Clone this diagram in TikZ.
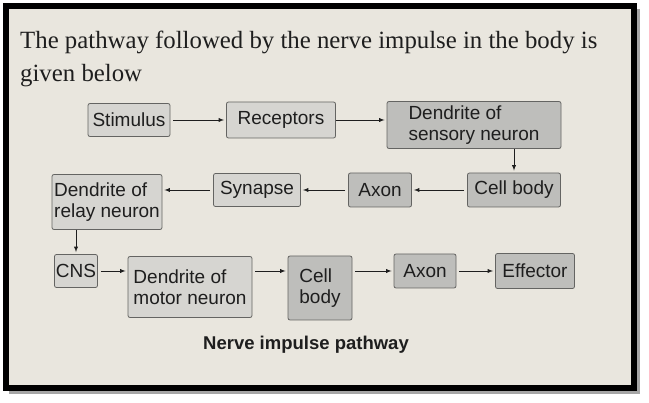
\documentclass[tikz,border=0pt]{standalone}
\usepackage{fontspec}
\setmainfont{Liberation Serif}
\setsansfont{Liberation Sans}
\usetikzlibrary{arrows}
\definecolor{page}{RGB}{233,230,222}
\definecolor{lightfill}{RGB}{214,213,209}
\definecolor{darkfill}{RGB}{190,190,187}
\definecolor{edge}{RGB}{100,100,98}
\definecolor{ink}{RGB}{30,30,30}
\tikzset{
  box/.style={draw=edge, line width=0.8pt, rounded corners=2pt, inner sep=0pt, align=left, text=ink,
    font=\sffamily\fontsize{19}{21.5}\selectfont},
  lightbox/.style={box, fill=lightfill},
  darkbox/.style={box, fill=darkfill},
  arr/.style={-latex, draw=ink, line width=0.9pt, shorten <=3pt, shorten >=2pt}
}

\begin{document}
\begin{tikzpicture}[x=1pt,y=-1pt]
        \useasboundingbox (0,0) rectangle (649,403);
        \fill[white] (0,0) rectangle (649,403);
        \fill[black!35] (9,9) rectangle (640,394);
        \fill[page] (6,6) rectangle (634,388);
        \draw[black, line width=6pt] (6,6) rectangle (634,388);

        \node[anchor=base west, inner sep=0pt, text=ink, font=\fontsize{24.8}{30}\selectfont] (title) at (20,49) {The pathway followed by the nerve impulse in the body is};
        \node[anchor=base west, inner sep=0pt, text=ink, font=\fontsize{24.8}{30}\selectfont] (titlenext) at (20,82) {given below};

        \node[lightbox, minimum width=82pt, minimum height=33pt] (stim) at (129,120) {Stimulus};
        \node[lightbox, minimum width=109pt, minimum height=36pt] (rec) at (281,120) {Receptors};
        \node[darkbox, minimum width=174pt, minimum height=47pt] (sens) at (474,125) {Dendrite of\\sensory neuron};
        \node[darkbox, minimum width=93pt, minimum height=34pt] (cbodyA) at (514,190) {Cell body};
        \node[darkbox, minimum width=63pt, minimum height=34pt] (axonA) at (380,190) {Axon};
        \node[lightbox, minimum width=87pt, minimum height=33pt] (syn) at (257,190) {Synapse};
        \node[lightbox, minimum width=110pt, minimum height=55pt] (relay) at (107,202) {Dendrite of\\relay neuron};
        \node[lightbox, minimum width=43pt, minimum height=33pt] (cns) at (76,271) {CNS};
        \node[lightbox, minimum width=124pt, minimum height=61pt] (motor) at (190,287) {Dendrite of\\motor neuron};
        \node[darkbox, minimum width=64pt, minimum height=64pt] (cbodyB) at (320,288) {Cell\\body};
        \node[darkbox, minimum width=62pt, minimum height=34pt] (axonB) at (425,271) {Axon};
        \node[darkbox, minimum width=79pt, minimum height=35pt] (eff) at (535,271) {Effector};

        \draw[arr] (stim) -- (rec);
        \draw[arr, shorten <=0pt] (rec.east) -- (rec.east -| sens.west);
        \draw[arr, shorten <=0pt] (sens.south -| cbodyA) -- (cbodyA);
        \draw[arr] (cbodyA) -- (axonA);
        \draw[arr] (axonA) -- (syn);
        \draw[arr] (syn.west) -- (syn.west -| relay.east);
        \draw[arr, shorten <=0pt] (relay.south -| cns) -- (cns);
        \draw[arr] (cns) -- (cns -| motor.west);
        \draw[arr] (motor.east |- cns) -- (cbodyB.west |- cns);
        \draw[arr] (cbodyB.east |- axonB) -- (axonB);
        \draw[arr] (axonB) -- (eff);

        \node[text=ink, font=\sffamily\bfseries\fontsize{18.5}{22}\selectfont] (caption) at (306,345) {Nerve impulse pathway};
\end{tikzpicture}
\end{document}
